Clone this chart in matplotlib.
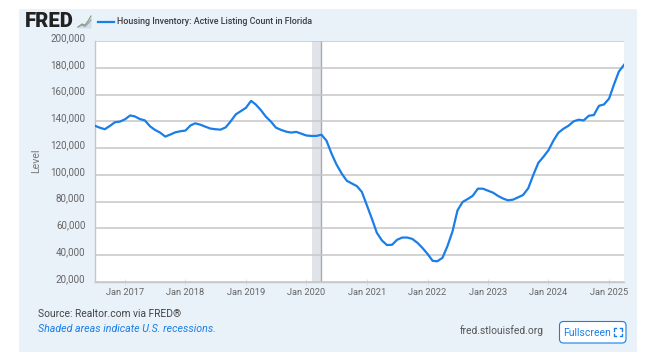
import matplotlib
matplotlib.use('Agg')
import matplotlib.pyplot as plt
import matplotlib.dates as mdates
import matplotlib.patches as patches
from matplotlib.transforms import ScaledTranslation
import pandas as pd

plt.rcParams['font.family'] = ['Roboto', 'DejaVu Sans']

start_month = '2016-07-01'
# thousands of listings
listings = [136.8, 135.3, 134.1, 136.5, 139.3, 139.8,
            141.5, 144.4, 143.7, 141.7, 140.7, 136.3, 133.6, 131.6, 128.6, 130.1, 131.8, 132.6,
            133.1, 137.0, 138.5, 137.5, 136.0, 134.6, 134.1, 133.8, 135.5, 140.0, 145.2, 147.6,
            150.1, 155.3, 152.6, 148.4, 143.5, 139.8, 135.3, 133.6, 132.3, 131.6, 132.1, 130.8,
            129.4, 129.1, 129.1, 130.0, 125.6, 115.8, 107.7, 101.0, 95.6, 93.6, 91.6, 87.2,
            77.0, 66.7, 56.8, 51.0, 47.6, 47.8, 51.5, 53.2, 53.2, 52.2, 49.3, 45.5,
            41.0, 35.8, 35.5, 38.0, 46.7, 57.8, 73.5, 79.8, 82.0, 84.4, 89.7, 89.7,
            88.2, 86.7, 84.4, 82.4, 81.0, 81.5, 83.2, 85.0, 90.0, 99.8, 109.0, 113.4,
            118.4, 125.8, 131.5, 134.5, 136.7, 140.0, 141.2, 140.7, 144.2, 144.7, 151.6, 152.6,
            157.0, 168.0, 177.2, 182.2]
y_ticks = [20000, 40000, 60000, 80000, 100000, 120000, 140000, 160000, 180000, 200000]
x_ticks = ['2017-01-01', '2018-01-01', '2019-01-01', '2020-01-01', '2021-01-01',
           '2022-01-01', '2023-01-01', '2024-01-01', '2025-01-01']
recession = ['2020-02-01', '2020-04-01']

dates = pd.date_range(start_month, periods=len(listings), freq='MS')
values = [v * 1000 for v in listings]

W, H = 657, 363
BLUE = '#1a7ee8'
fig = plt.figure(figsize=(W / 100, H / 100), dpi=100, facecolor='white')

# page furniture is laid out in pixels on a background axes
bg = fig.add_axes([0, 0, 1, 1])
bg.set_xlim(0, W)
bg.set_ylim(H, 0)
bg.axis('off')
bg.add_patch(patches.Rectangle((18.5, 8.5), 618.5, 343.5, fc='#e9f1f9', ec='none'))

# logo
bg.text(24.5, 21.8, 'FRED', fontsize=14.6, fontweight='black', color='#222222', va='center', ha='left')
bg.fill_between([78, 82, 85, 88, 91], [27, 24, 25, 21, 16], [28, 28, 28, 28, 28], color='#d5dde5', lw=0)
bg.plot([78, 82, 85, 88, 91], [27, 24, 25, 21, 16], color='#7d9b76', lw=0.8)
bg.plot([78, 82, 85, 88, 91], [27, 25, 26.5, 23.5, 20], color='#8f9dab', lw=0.8)

# legend
bg.plot([98, 114], [22, 22], color=BLUE, lw=1.6)
bg.text(117.3, 22, 'Housing Inventory: Active Listing Count in Florida', fontsize=6.4,
        color='#3d3d3d', fontweight='medium', va='center', ha='left')

bg.text(38, 314, 'Source: Realtor.com via FRED®', fontsize=7.4, color='#444444', va='center')
bg.text(38.5, 328.5, 'Shaded areas indicate U.S. recessions.', fontsize=7.7, color=BLUE,
        style='italic', va='center')
bg.text(460, 330.5, 'fred.stlouisfed.org', fontsize=7.4, color='#555555', va='center')

# fullscreen button
bg.add_patch(patches.FancyBboxPatch((559.5, 321.5), 66.5, 21.5, boxstyle='round,pad=0,rounding_size=4',
                                    fc='white', ec=BLUE, lw=0.8))
bg.text(563.5, 332.5, 'Fullscreen', fontsize=7.5, color=BLUE, va='center')
for cx, cy, sx, sy in [(613.5, 328, 1, 1), (622, 328, -1, 1), (613.5, 336, 1, -1), (622, 336, -1, -1)]:
    bg.plot([cx + 2.5 * sx, cx, cx], [cy, cy, cy + 2.5 * sy], color=BLUE, lw=1)

# chart
left, right, top, bottom = 94.5, 624, 41, 282
ax = fig.add_axes([left / W, 1 - bottom / H, (right - left) / W, (bottom - top) / H])
ax.set_facecolor('white')
ax.set_xlim(dates[0], dates[-1])
ax.set_ylim(20000, 200000)

ax.axvspan(pd.Timestamp(recession[0]), pd.Timestamp(recession[1]), color='#e0e4e8', lw=0, zorder=1)
ax.axvline(pd.Timestamp(recession[1]), color='#a8acb0', lw=1, zorder=1.5)
ax.plot(dates, values, color=BLUE, lw=1.6, zorder=3, solid_joinstyle='round')

ax.set_yticks(y_ticks)
ax.set_yticklabels(['{:,}'.format(v) for v in y_ticks])
ax.set_xticks([pd.Timestamp(d) for d in x_ticks])
ax.xaxis.set_major_formatter(mdates.DateFormatter('%b %Y'))
ax.grid(axis='y', color='#c6c6c6', lw=1.1, zorder=0)
ax.tick_params(axis='y', length=0, pad=6.5, labelsize=7.1, labelcolor='#666666')
ax.tick_params(axis='x', length=4, width=0.6, color='#d5dbe2', direction='inout', pad=2,
               labelsize=6.7, labelcolor='#666666')
# FRED's y labels sit a little above their gridlines
shift_up = ScaledTranslation(0, 4 / 100, fig.dpi_scale_trans)
for label in ax.get_yticklabels():
    label.set_transform(label.get_transform() + shift_up)
for name, spine in ax.spines.items():
    spine.set_visible(name in ('left', 'bottom'))
    spine.set_color('#c6c6c6')
    spine.set_linewidth(1)
ax.set_ylabel('Level', fontsize=7.6, color='#777777')
ax.yaxis.set_label_coords((41 - left) / (right - left), (282 - 161) / (bottom - top))

fig.savefig('out.png', dpi=100, facecolor='white')
